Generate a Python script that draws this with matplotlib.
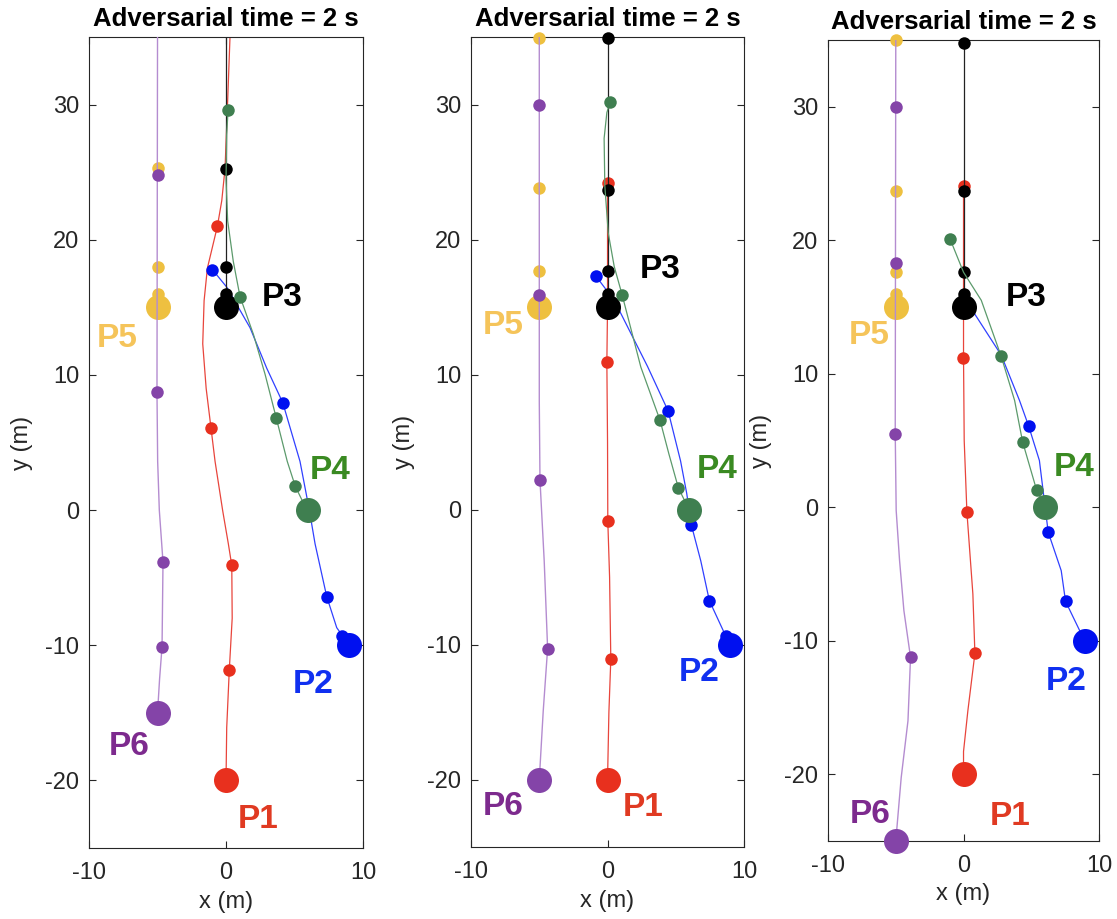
import matplotlib
matplotlib.use("Agg")
import matplotlib.pyplot as plt

plt.rcParams['font.family'] = ['Liberation Sans', 'DejaVu Sans']
plt.rcParams['axes.unicode_minus'] = False

names = ["P1", "P2", "P3", "P4", "P5", "P6"]
title = "Adversarial time = 2 s"

# marker / line / label colours per agent
dot_col = ["#e8301e", "#0010f0", "#000000", "#3f7f50", "#eec040", "#8444a8"]
line_col = ["#e8453c", "#3040ff", "#222222", "#5c9a6c", "#eec040", "#b48cd0"]
# the yellow track sits under the purple one, so it is not visible
line_w = [0.9, 0.9, 0.9, 0.9, 0.0, 1.0]
text_col = ["#e03a22", "#1030f0", "#000000", "#3a8a22", "#f5c45a", "#7d2a8e"]

start_x = [0, 9, 0, 6, -5, -5]
start_y_1 = [-20, -10, 15, 0, 15, -15]
start_y_2 = [-20, -10, 15, 0, 15, -20]
start_y_3 = [-20, -10, 15, 0, 15, -25]

# ---- panel 1 ----
path_1 = {
    "P1": ([0, 0.05, 0.24, 0.45, 0.42, 0.17, -0.24, -0.8, -1.1, -1.45, -1.7, -1.6, -1.36, -0.63, -0.31, -0.07, 0.12, 0.29],
           [-20, -16.1, -11.8, -8, -4.1, -2.5, -0.07, 3.6, 6.1, 9, 12.3, 15.5, 17.9, 21, 22.9, 25.3, 30.3, 35]),
    "P2": ([8.93, 8.5, 8.08, 7.35, 6.5, 6.08, 5.4, 4.14, 2.97, 1.75, 0.05, -1.0],
           [-10, -9.3, -8.7, -6.4, -2.5, 0, 3.6, 7.95, 10.5, 13.5, 16.5, 17.8]),
    "P3": ([0, 0], [15, 35]),
    "P4": ([5.9, 5.06, 4.47, 3.67, 2.85, 2.0, 1.02, 0.53, 0.12, 0.0, 0.05, 0.15],
           [0, 1.75, 3.6, 6.8, 10.05, 13.0, 15.8, 18.4, 21.4, 24.5, 27.8, 29.6]),
    "P5": ([-5, -5], [15, 25.3]),
    "P6": ([-5, -4.85, -4.67, -4.6, -4.87, -4.99, -5.04, -5],
           [-15, -12.5, -10.1, -3.85, 0, 3.6, 8.7, 35]),
}
dots_1 = {
    "P1": ([0.42, 0.24, -1.1, -0.63], [-4.1, -11.8, 6.1, 21.0]),
    "P2": ([8.5, 7.35, 4.14, -1.0], [-9.3, -6.4, 7.95, 17.8]),
    "P3": ([0, 0, 0], [16.0, 18.0, 25.2]),
    "P4": ([5.06, 3.67, 1.02, 0.15], [1.75, 6.8, 15.8, 29.6]),
    "P5": ([-5, -5, -5], [16.0, 18.0, 25.3]),
    "P6": ([-4.67, -4.6, -5.04, -5], [-10.1, -3.85, 8.7, 24.8]),
}
label_1 = {"P1": (2.36, -22.9), "P2": (6.37, -12.9), "P3": (4.09, 15.7),
           "P4": (7.6, 2.96), "P5": (-7.96, 12.7), "P6": (-7.07, -17.5)}

# ---- panel 2 ----
path_2 = {
    "P1": ([0, 0.1, 0.24, 0.15, 0.02, 0, -0.05, 0, 0],
           [-20, -15, -11.1, -5, -0.87, 5, 10.9, 15, 24.2]),
    "P2": ([8.97, 8.65, 7.46, 6.83, 6.14, 5.8, 5.35, 4.44, 2.93, 0.49, -0.86],
           [-10, -9.35, -6.75, -3.8, -1.14, 1.2, 3.6, 7.3, 10.6, 15.5, 17.3]),
    "P3": ([0, 0], [15, 35]),
    "P4": ([5.97, 5.19, 4.5, 3.85, 2.44, 1.07, 0.49, 0.05, -0.2, -0.25, -0.05, 0.19],
           [0, 1.6, 4.1, 6.6, 10.55, 15.9, 18.0, 20.5, 24, 27.5, 29.4, 30.2]),
    "P5": ([-5, -5], [15, 35]),
    "P6": ([-5, -4.71, -4.39, -4.64, -4.95, -5, -5],
           [-20, -14.9, -10.3, -3.8, 2.2, 8, 35]),
}
dots_2 = {
    "P1": ([0.24, 0.02, -0.05, 0], [-11.1, -0.87, 10.9, 24.2]),
    "P2": ([8.65, 7.46, 6.14, 4.44, -0.86], [-9.35, -6.75, -1.14, 7.3, 17.3]),
    "P3": ([0, 0, 0, 0], [16.0, 17.7, 23.7, 34.9]),
    "P4": ([5.19, 3.85, 1.07, 0.19], [1.6, 6.6, 15.9, 30.2]),
    "P5": ([-5, -5, -5], [17.7, 23.8, 34.9]),
    "P6": ([-4.39, -4.95, -5, -5], [-10.3, 2.2, 15.9, 30.0]),
}
label_2 = {"P1": (2.64, -22.05), "P2": (6.7, -12.07), "P3": (3.84, 17.8),
           "P4": (8.05, 2.97), "P5": (-7.68, 13.6), "P6": (-7.68, -21.96)}

# ---- panel 3 ----
path_3 = {
    "P1": ([0, 0, 0.32, 0.84, 0.69, 0.25, 0.05, 0, 0],
           [-20, -18.3, -15.25, -10.95, -6.5, -0.37, 5, 11.2, 24.06]),
    "P2": ([8.98, 8.6, 7.53, 7.21, 6.25, 5.6, 4.8, 4.13, 2.78, 0.81, 0.1],
           [-10, -9.3, -7.05, -4.75, -1.87, 3.5, 6.1, 8.0, 11.4, 14.5, 15]),
    "P3": ([0, 0], [15, 35]),
    "P4": ([6.03, 5.39, 4.36, 3.77, 2.78, 1.31, 0, -0.98],
           [0, 1.3, 4.9, 8.0, 11.3, 15.5, 17.6, 20.06]),
    "P5": ([-5, -5], [15, 35]),
    "P6": ([-5, -4.6, -4.1, -3.91, -4.4, -4.72, -4.97, -5.04, -5],
           [-25, -20.25, -16.0, -11.25, -7.75, -4, -0.25, 5.5, 35]),
}
dots_3 = {
    "P1": ([0.84, 0.25, -0.02, 0], [-10.95, -0.37, 11.2, 24.06]),
    "P2": ([7.53, 6.25, 4.8], [-7.05, -1.87, 6.1]),
    "P3": ([0, 0, 0, 0], [16.0, 17.6, 23.7, 34.8]),
    "P4": ([5.39, 4.36, 2.78, -0.98], [1.3, 4.9, 11.3, 20.06]),
    "P5": ([-5, -5, -5, -5], [16.0, 17.6, 23.7, 35.0]),
    "P6": ([-3.91, -5.04, -5, -5], [-11.25, 5.5, 18.3, 30.0]),
}
label_3 = {"P1": (3.46, -23.2), "P2": (7.58, -13.06), "P3": (4.65, 15.73),
           "P4": (8.19, 3.0), "P5": (-6.94, 12.84), "P6": (-6.91, -23.03)}

panels = [
    ([0.0797, 0.0773, 0.2453, 0.8824], path_1, dots_1, start_y_1, label_1),
    ([0.4217, 0.0783, 0.2444, 0.8814], path_2, dots_2, start_y_2, label_2),
    ([0.7413, 0.0849, 0.2426, 0.8716], path_3, dots_3, start_y_3, label_3),
]

fig = plt.figure(figsize=(11.17, 9.19), dpi=100)

for rect, paths, dots, sy, labs in panels:
    ax = fig.add_axes(rect)
    for i, n in enumerate(names):
        px, py = paths[n]
        if line_w[i] > 0:
            ax.plot(px, py, '-', color=line_col[i], lw=line_w[i], zorder=2 + i)
        dx, dy = dots[n]
        ax.plot(dx, dy, 'o', color=dot_col[i], ms=9, mew=0, zorder=2 + i, clip_on=False)
        ax.plot(start_x[i], sy[i], 'o', color=dot_col[i], ms=18, mew=0, zorder=2 + i, clip_on=False)
        tx, ty = labs[n]
        ax.text(tx, ty, n, color=text_col[i], fontsize=24, fontweight='bold',
                ha='center', va='center', zorder=20)

    ax.set_xlim(-10, 10)
    ax.set_ylim(-25, 35)
    ax.set_xticks([-10, 0, 10])
    ax.set_yticks([-20, -10, 0, 10, 20, 30])
    ax.tick_params(direction='in', length=5, width=0.8, color='#262626',
                   labelcolor='#262626', labelsize=17, top=True, right=True)
    ax.tick_params(axis='x', pad=10)
    ax.tick_params(axis='y', pad=7)
    for s in ax.spines.values():
        s.set_color('#262626')
        s.set_linewidth(0.8)
    ax.set_xlabel('x (m)', fontsize=17, color='#262626')
    ax.set_ylabel('y (m)', fontsize=17, color='#262626')
    ax.xaxis.set_label_coords(0.5, -0.053)
    ax.yaxis.set_label_coords(-0.205, 0.5)
    ax.set_title(title, fontsize=18.5, fontweight='bold', pad=8)

fig.savefig('out.png', dpi=100)
